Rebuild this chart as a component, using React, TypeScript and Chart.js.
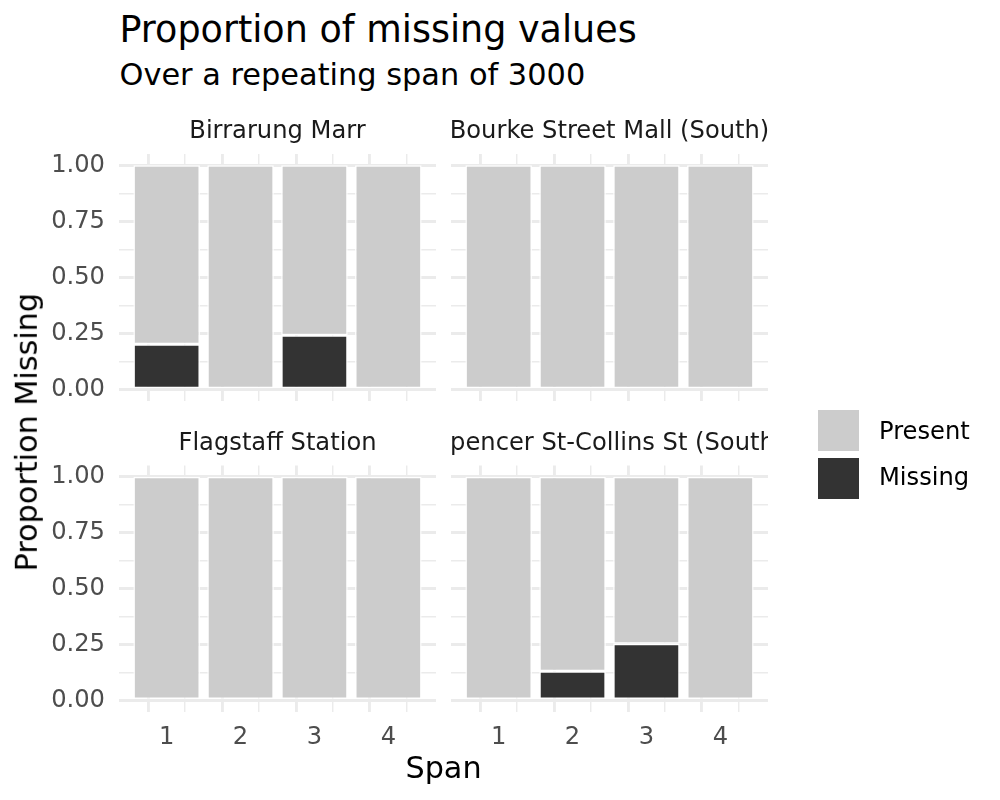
import { useEffect, useRef } from 'react';
import { Chart, registerables } from 'chart.js';
import type { ChartConfiguration } from 'chart.js';

Chart.register(...registerables);

// data
const spans = [1, 2, 3, 4];
const siteNames = ['Birrarung Marr', 'Bourke Street Mall (South)', 'Flagstaff Station', 'Spencer St-Collins St (South)'];
const missingBirrarung = [0.203, 0, 0.243, 0];
const presentBirrarung = [0.797, 1, 0.757, 1];
const missingBourke = [0, 0, 0, 0];
const presentBourke = [1, 1, 1, 1];
const missingFlagstaff = [0, 0, 0, 0];
const presentFlagstaff = [1, 1, 1, 1];
const missingSpencer = [0, 0.13, 0.253, 0];
const presentSpencer = [1, 0.87, 0.747, 1];

// tick breaks (major + minor)
const xBreaks = [0.5, 1, 1.5, 2, 2.5, 3, 3.5, 4, 4.5];
const yBreaks = [0, 0.125, 0.25, 0.375, 0.5, 0.625, 0.75, 0.875, 1];
const legendLabels = ['Present', 'Missing'];

const FONT = "'DejaVu Sans', sans-serif";
const GRID = '#ebebeb';
const PRESENT = '#cccccc';
const MISSING = '#333333';
const W = 1000;
const H = 800;

// top of a line box (line-height 1.4) for a wanted baseline
const topFor = (baseline: number, size: number) => baseline - 1.046 * size;

interface PanelProps {
  title: string;
  missing: number[];
  present: number[];
  left: number;
  top: number;
  right: number;
  bottom: number;
  showX: boolean;
  showY: boolean;
  stripBaseline: number;
}

function Panel({ title, missing, present, left, top, right, bottom, showX, showY, stripBaseline }: PanelProps) {
  const chartRef = useRef<HTMLCanvasElement>(null);
  const chartInstance = useRef<Chart | null>(null);

  useEffect(() => {
    if (!chartRef.current) return;
    const ctx = chartRef.current.getContext('2d');
    if (!ctx) return;

    const yW = showY ? 100 : 0;
    const xH = showX ? 40 : 0;

    // the bar ruler measures against the half-step grid ticks, so 1.8 of it = 0.9 of a span
    const config: ChartConfiguration = {
      type: 'bar',
      data: {
        datasets: [
          {
            label: 'Missing',
            data: spans.map((s, i) => ({ x: s, y: missing[i] })),
            backgroundColor: MISSING, borderColor: '#ffffff', borderWidth: 1.45, borderSkipped: false,
            barPercentage: 1.8, categoryPercentage: 1, stack: 'a'
          },
          {
            label: 'Present',
            data: spans.map((s, i) => ({ x: s, y: present[i] })),
            backgroundColor: PRESENT, borderColor: '#ffffff', borderWidth: 1.45, borderSkipped: false,
            barPercentage: 1.8, categoryPercentage: 1, stack: 'a'
          }
        ]
      } as any,
      options: {
        animation: false, responsive: false, devicePixelRatio: 1,
        layout: { padding: { left: left - yW, top: top, right: W - right, bottom: H - bottom - xH } },
        plugins: { legend: { display: false }, tooltip: { enabled: false } },
        scales: {
          x: {
            type: 'linear', min: 0.355, max: 4.645, stacked: true, offset: false,
            afterBuildTicks: (s: any) => { s.ticks = xBreaks.map((v) => ({ value: v })); },
            afterFit: (s: any) => { s.height = xH; },
            ticks: {
              display: showX, autoSkip: false, maxRotation: 0, padding: 11.5,
              font: { family: FONT, size: 24.2 }, color: '#4d4d4d',
              callback: (v: any) => (Number.isInteger(v) ? String(v) : '')
            },
            grid: { color: GRID, drawTicks: false, lineWidth: (c: any) => (Number.isInteger(c.tick?.value) ? 2.9 : 1.45) },
            border: { display: false }
          },
          y: {
            type: 'linear', min: -0.05, max: 1.05, stacked: true,
            afterBuildTicks: (s: any) => { s.ticks = yBreaks.map((v) => ({ value: v })); },
            afterFit: (s: any) => { s.width = yW; },
            ticks: {
              display: showY, autoSkip: false, padding: 14,
              font: { family: FONT, size: 24.2 }, color: '#4d4d4d',
              callback: (v: any) => (Number.isInteger(v * 4) ? Number(v).toFixed(2) : '')
            },
            grid: { color: GRID, drawTicks: false, lineWidth: (c: any) => (Number.isInteger((c.tick?.value ?? 0) * 4) ? 2.9 : 1.45) },
            border: { display: false }
          }
        }
      } as any
    };

    if (chartInstance.current) { chartInstance.current.destroy(); }
    chartInstance.current = new Chart(ctx, config);

    return () => { if (chartInstance.current) { chartInstance.current.destroy(); chartInstance.current = null; } };
  }, [missing, present, left, top, right, bottom, showX, showY]);

  return (
    <>
      <canvas ref={chartRef} width={W} height={H} style={{ position: 'absolute', left: 0, top: 0, width: W, height: H }} />
      <div style={{
        position: 'absolute', left, width: right - left, top: topFor(stripBaseline, 24.2), overflow: 'hidden',
        display: 'flex', justifyContent: 'center', whiteSpace: 'nowrap', fontSize: 24.2, lineHeight: 1.4, color: '#1a1a1a'
      }}>
        <span>{title}</span>
      </div>
    </>
  );
}

export default function App() {
  const textBase = { position: 'absolute' as const, fontFamily: FONT, lineHeight: 1.4, whiteSpace: 'nowrap' as const };
  return (
    <div style={{ position: 'absolute', left: 0, top: 0, width: W, height: H, background: '#ffffff', fontFamily: FONT, overflow: 'hidden' }}>
      <div style={{ ...textBase, left: 119.5, top: topFor(41.7, 36.5), fontSize: 36.5, color: '#000000' }}>Proportion of missing values</div>
      <div style={{ ...textBase, left: 119.5, top: topFor(85.3, 30.4), fontSize: 30.4, color: '#000000' }}>Over a repeating span of 3000</div>

      <Panel title={siteNames[0]} missing={missingBirrarung} present={presentBirrarung}
        left={119} right={436} top={154} bottom={401} showX={false} showY={true} stripBaseline={139.3} />
      <Panel title={siteNames[1]} missing={missingBourke} present={presentBourke}
        left={451} right={768} top={154} bottom={401} showX={false} showY={false} stripBaseline={139.3} />
      <Panel title={siteNames[2]} missing={missingFlagstaff} present={presentFlagstaff}
        left={119} right={436} top={465.5} bottom={711.5} showX={true} showY={true} stripBaseline={451} />
      <Panel title={siteNames[3]} missing={missingSpencer} present={presentSpencer}
        left={451} right={768} top={465.5} bottom={711.5} showX={true} showY={false} stripBaseline={451} />

      {/* axis titles */}
      <div style={{ ...textBase, left: 443.5, top: topFor(779, 30.25), fontSize: 30.25, color: '#000000', transform: 'translateX(-50%)' }}>Span</div>
      <div style={{
        ...textBase, left: 27 - 200, top: 432.5 - 0.7 * 30.25, width: 400, textAlign: 'center',
        fontSize: 30.25, color: '#000000', transform: 'rotate(-90deg)'
      }}>Proportion Missing</div>

      {/* legend */}
      {[PRESENT, MISSING].map((c, i) => (
        <div key={c}>
          <div style={{ position: 'absolute', left: 818, top: 410 + i * 48, width: 41, height: 41, background: c }} />
          <div style={{ ...textBase, left: 879, top: topFor(440 + i * 46.7, 24.2), fontSize: 24.2, color: '#000000' }}>{legendLabels[i]}</div>
        </div>
      ))}
    </div>
  );
}
